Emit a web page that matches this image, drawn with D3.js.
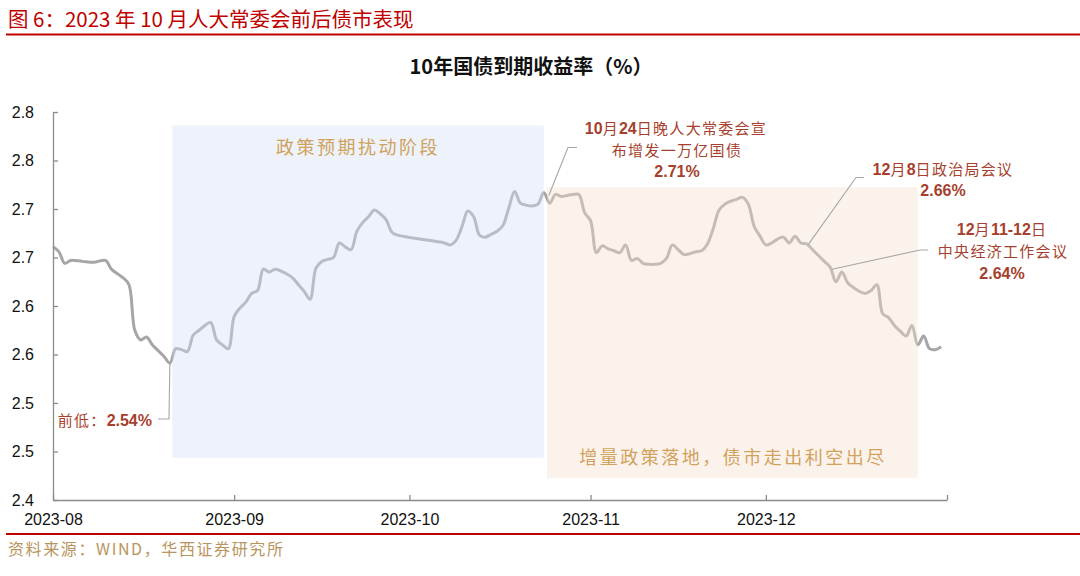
<!DOCTYPE html>
<html><head><meta charset="utf-8">
<script src="https://cdn.jsdelivr.net/npm/d3@7"></script>
<style>body{margin:0;background:#fff}</style>
</head><body><svg id="c" width="1080" height="576"></svg>
<script>
// ---- data ----
const dates = [
"2023-08-01","2023-08-02","2023-08-03","2023-08-04","2023-08-06","2023-08-08","2023-08-10","2023-08-11","2023-08-13","2023-08-14",
"2023-08-15","2023-08-16","2023-08-17","2023-08-18","2023-08-20","2023-08-21","2023-08-22","2023-08-23","2023-08-24","2023-08-25",
"2023-08-26","2023-08-27","2023-08-28","2023-08-29","2023-08-30","2023-08-31",
"2023-09-01","2023-09-02","2023-09-03","2023-09-04","2023-09-05","2023-09-06","2023-09-07","2023-09-08","2023-09-09","2023-09-10",
"2023-09-11","2023-09-12","2023-09-13","2023-09-14","2023-09-15","2023-09-16","2023-09-17","2023-09-18","2023-09-19","2023-09-20",
"2023-09-21","2023-09-22","2023-09-23","2023-09-24","2023-09-25","2023-09-26","2023-09-27","2023-09-28","2023-09-29",
"2023-10-07","2023-10-08","2023-10-09","2023-10-10","2023-10-11","2023-10-12","2023-10-13","2023-10-14","2023-10-15","2023-10-16",
"2023-10-17","2023-10-18","2023-10-19","2023-10-20","2023-10-21","2023-10-22","2023-10-23","2023-10-24","2023-10-25","2023-10-26",
"2023-10-27","2023-10-28","2023-10-29","2023-10-30","2023-10-31",
"2023-11-01","2023-11-02","2023-11-03","2023-11-04","2023-11-05","2023-11-06","2023-11-07","2023-11-08","2023-11-09","2023-11-10",
"2023-11-11","2023-11-12","2023-11-13","2023-11-14","2023-11-15","2023-11-16","2023-11-17","2023-11-18","2023-11-19","2023-11-20",
"2023-11-21","2023-11-22","2023-11-23","2023-11-24","2023-11-25","2023-11-26","2023-11-27","2023-11-28","2023-11-29","2023-11-30",
"2023-12-01","2023-12-02","2023-12-03","2023-12-04","2023-12-05","2023-12-06","2023-12-07","2023-12-08","2023-12-09","2023-12-10",
"2023-12-11","2023-12-12","2023-12-13","2023-12-14","2023-12-15","2023-12-16","2023-12-17","2023-12-18","2023-12-19","2023-12-20",
"2023-12-21","2023-12-22","2023-12-23","2023-12-24","2023-12-25","2023-12-26","2023-12-27","2023-12-28","2023-12-29","2023-12-30","2023-12-31"
];
const yields = [
2.661,2.656,2.644,2.647,2.646,2.645,2.647,2.638,2.629,2.622,
2.575,2.565,2.568,2.560,2.548,2.541,2.556,2.555,2.553,2.570,
2.575,2.580,2.583,2.565,2.560,2.556,
2.589,2.598,2.604,2.613,2.616,2.638,2.635,2.638,2.636,2.633,
2.629,2.622,2.615,2.607,2.639,2.646,2.648,2.650,2.665,2.661,
2.658,2.677,2.686,2.692,2.699,2.695,2.689,2.676,2.673,
2.665,2.663,2.668,2.682,2.698,2.692,2.673,2.671,2.674,2.677,
2.683,2.701,2.718,2.706,2.704,2.703,2.705,2.717,2.706,2.715,
2.713,2.714,2.715,2.715,2.696,
2.688,2.655,2.662,2.659,2.657,2.655,2.663,2.647,2.649,2.644,
2.643,2.643,2.644,2.649,2.663,2.658,2.653,2.654,2.656,2.657,
2.664,2.680,2.699,2.705,2.708,2.710,2.712,2.705,2.682,2.672,
2.663,2.665,2.669,2.671,2.665,2.672,2.665,2.664,2.658,2.652,
2.646,2.640,2.625,2.635,2.624,2.619,2.615,2.613,2.616,2.622,
2.592,2.588,2.580,2.574,2.569,2.580,2.560,2.569,2.556,2.555,2.558
];
const yTickValues = [2.40,2.45,2.50,2.55,2.60,2.65,2.70,2.75,2.80];
const yTickLabels = ["2.4","2.5","2.5","2.6","2.6","2.7","2.7","2.8","2.8"];
const xTickDates = ["2023-08-01","2023-09-01","2023-10-01","2023-11-01","2023-12-01","2024-01-01"];
const xTickLabels = ["2023-08","2023-09","2023-10","2023-11","2023-12",""];
// shaded phases: start, end (datetime), top and bottom (yield units)
const phaseNames = ["政策预期扰动阶段","增量政策落地，债市走出利空出尽"];
const phaseStart = ["2023-08-21T10:00","2023-10-24T13:00"];
const phaseEnd   = ["2023-10-24T00:00","2023-12-27T00:00"];
const phaseTop   = [2.786, 2.7225];
const phaseBottom= [2.4435, 2.4225];
// annotated points
const annDates = ["2023-08-21","2023-10-24","2023-12-08","2023-12-12"];

// ---- setup ----
const svg = d3.select("#c");
const parse = d3.timeParse("%Y-%m-%d");
const parseT = d3.isoParse;
const data = dates.map((d,i)=>({date:parse(d), v:yields[i]}));
const x = d3.scaleTime().domain([parse("2023-08-01"), parse("2024-01-01")]).range([53, 947]);
const y = d3.scaleLinear().domain([2.40, 2.80]).range([500, 112]);
const SANS = "'Liberation Sans', Arial, 'Noto Sans CJK SC', sans-serif";
const CJK = "'Noto Sans CJK SC', 'Liberation Sans', sans-serif";
const RED = "#c00000", ANN = "#a63f2d", GOLD = "#d0a25c";

// header
svg.append("text").attr("x",8).attr("y",27).attr("fill",RED)
  .style("font-family",CJK).style("font-size","20.5px")
  .text("图 6：2023 年 10 月人大常委会前后债市表现");
svg.append("rect").attr("x",6).attr("y",33.5).attr("width",1074).attr("height",2).attr("fill",RED);
// title
svg.append("text").attr("x",531).attr("y",74).attr("text-anchor","middle")
  .style("font-family",CJK).style("font-size","20px").style("font-weight","bold").attr("fill","#111")
  .text("10年国债到期收益率（%）");

// line
const line = d3.line().x(d=>x(d.date)).y(d=>y(d.v)).curve(d3.curveCatmullRom.alpha(0.5));
svg.append("path").datum(data).attr("d",line).attr("fill","none")
  .attr("stroke","#a6a6a6").attr("stroke-width",3).attr("stroke-linejoin","round");

// phase overlays
const phaseFill = ["#d4dff2","#f8dfd0"];
phaseNames.forEach((n,i)=>{
  const x0 = x(parseT(phaseStart[i])), x1 = x(parseT(phaseEnd[i]));
  svg.append("rect").attr("x",x0).attr("y",y(phaseTop[i]))
    .attr("width",x1-x0).attr("height",y(phaseBottom[i])-y(phaseTop[i]))
    .attr("fill",phaseFill[i]).attr("fill-opacity",0.4);
});
// phase labels
svg.append("text").attr("x",358).attr("y",154).attr("text-anchor","middle").attr("fill",GOLD)
  .style("font-family",CJK).style("font-size","18px").style("letter-spacing","2.5px").text(phaseNames[0]);
svg.append("text").attr("x",733).attr("y",464).attr("text-anchor","middle").attr("fill",GOLD)
  .style("font-family",CJK).style("font-size","18px").style("letter-spacing","2.5px").text(phaseNames[1]);

// axes
const yAxis = d3.axisLeft(y).tickValues(yTickValues).tickSizeInner(-5).tickSizeOuter(0).tickPadding(19)
  .tickFormat((d,i)=>yTickLabels[i]);
const gy = svg.append("g").attr("transform","translate(53,0)").call(yAxis);
const xAxis = d3.axisBottom(x).tickValues(xTickDates.map(parse)).tickSizeInner(-5).tickSizeOuter(0).tickPadding(14)
  .tickFormat((d,i)=>xTickLabels[i]);
const gx = svg.append("g").attr("transform","translate(0,500)").call(xAxis);
[gx,gy].forEach(g=>{
  g.select(".domain").attr("stroke","#8c8c8c").attr("stroke-width",1.3);
  g.selectAll(".tick line").attr("stroke","#8c8c8c").attr("stroke-width",1.3);
  g.selectAll("text").style("font-family",SANS).style("font-size","16px").attr("fill","#111");
});

// leader lines
const lead = (pts)=>svg.append("path").attr("d",d3.line()(pts)).attr("fill","none")
  .attr("stroke","#a6a6a6").attr("stroke-width",1.1);
const ad = annDates.map(parse);
const findV = d=>data.find(p=>+p.date===+d).v;
lead([[x(ad[0]),y(findV(ad[0]))],[169,419],[158,419]]);
lead([[x(ad[1])+5,y(findV(ad[1]))+3],[568,147.5],[577,147.5]]);
lead([[x(ad[2])+2,y(findV(ad[2]))],[856,177.5],[864,177.5]]);
lead([[x(ad[3])+2,y(findV(ad[3]))+2],[920,250],[928,250]]);

// rich text helper
function rich(xp, yp, parts, anchor){
  const t = svg.append("text").attr("x",xp).attr("y",yp).attr("text-anchor",anchor).attr("fill",ANN);
  parts.forEach(p=>{
    t.append("tspan").text(p[0])
      .style("font-family", p[1] ? SANS : CJK)
      .style("font-weight", p[1] ? "bold" : "normal")
      .style("font-size", p[1] ? "16px" : "15px")
      .style("letter-spacing", p[1] ? "0px" : "1.3px");
  });
}
rich(152, 426, [["前低：",0],["2.54%",1]], "end");
rich(676, 134, [["10",1],["月",0],["24",1],["日晚人大常委会宣",0]], "middle");
rich(677, 156, [["布增发一万亿国债",0]], "middle");
rich(677, 177, [["2.71%",1]], "middle");
rich(943, 175, [["12",1],["月",0],["8",1],["日政治局会议",0]], "middle");
rich(943, 196, [["2.66%",1]], "middle");
rich(1002, 235, [["12",1],["月",0],["11-12",1],["日",0]], "middle");
rich(1003, 257, [["中央经济工作会议",0]], "middle");
rich(1002, 279, [["2.64%",1]], "middle");

// footer
svg.append("rect").attr("x",6).attr("y",533).attr("width",1074).attr("height",2).attr("fill",RED);
svg.append("text").attr("x",8).attr("y",555).attr("fill","#b89560")
  .style("font-family",CJK).style("font-size","16px").style("letter-spacing","1.6px")
  .text("资料来源：WIND，华西证券研究所");
</script></body></html>
